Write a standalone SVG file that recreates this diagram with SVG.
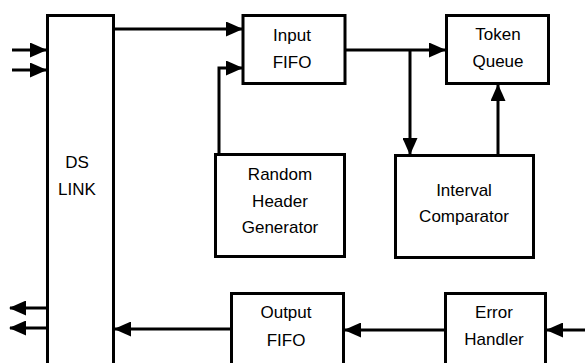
<svg xmlns="http://www.w3.org/2000/svg" width="585" height="363" viewBox="0 0 585 363">
  <style>
    .box { fill: #fff; stroke: #000; stroke-width: 3; }
    .lbl { font-family: "Liberation Sans", Arial, sans-serif; font-size: 17px; fill: #000; text-anchor: middle; }
    .wire { fill: none; stroke: #000; stroke-width: 3; }
  </style>
  <defs>
    <marker id="arrow" markerUnits="userSpaceOnUse" markerWidth="17" markerHeight="15" refX="16" refY="7.5" orient="auto">
      <path d="M0,0 L17,7.5 L0,15 z" fill="#000"/>
    </marker>
  </defs>
  <rect width="585" height="363" fill="#fff"/>

  <g id="ds-link">
    <rect class="box" x="47.5" y="15.5" width="66" height="360"/>
    <text class="lbl" x="77" y="168">DS</text>
    <text class="lbl" x="77" y="195">LINK</text>
  </g>

  <g id="input-fifo">
    <rect class="box" x="243" y="15.5" width="102" height="68"/>
    <text class="lbl" x="292" y="41">Input</text>
    <text class="lbl" x="292" y="68">FIFO</text>
  </g>

  <g id="token-queue">
    <rect class="box" x="446.5" y="15.5" width="102" height="68"/>
    <text class="lbl" x="498" y="40">Token</text>
    <text class="lbl" x="498" y="67">Queue</text>
  </g>

  <g id="random-header-generator">
    <rect class="box" x="215.5" y="154.5" width="129" height="102"/>
    <text class="lbl" x="280" y="180">Random</text>
    <text class="lbl" x="280" y="207">Header</text>
    <text class="lbl" x="280" y="233">Generator</text>
  </g>

  <g id="interval-comparator">
    <rect class="box" x="395.5" y="155.5" width="138" height="102"/>
    <text class="lbl" x="464" y="196">Interval</text>
    <text class="lbl" x="464" y="222">Comparator</text>
  </g>

  <g id="output-fifo">
    <rect class="box" x="231.5" y="293.5" width="112" height="80"/>
    <text class="lbl" x="286" y="318">Output</text>
    <text class="lbl" x="286" y="346">FIFO</text>
  </g>

  <g id="error-handler">
    <rect class="box" x="445.5" y="293.5" width="100" height="80"/>
    <text class="lbl" x="494" y="318">Error</text>
    <text class="lbl" x="494" y="345">Handler</text>
  </g>

  <g id="connectors">
    <!-- external inputs to DS LINK -->
    <line class="wire" x1="12" y1="50" x2="46" y2="50" marker-end="url(#arrow)"/>
    <line class="wire" x1="12" y1="70" x2="46" y2="70" marker-end="url(#arrow)"/>
    <!-- DS LINK to Input FIFO -->
    <line class="wire" x1="114" y1="29" x2="242" y2="29" marker-end="url(#arrow)"/>
    <!-- Random Header Generator to Input FIFO -->
    <polyline class="wire" points="219,154 219,68 242,68" marker-end="url(#arrow)"/>
    <!-- Input FIFO to Token Queue -->
    <line class="wire" x1="345" y1="50" x2="445" y2="50" marker-end="url(#arrow)"/>
    <!-- branch to Interval Comparator -->
    <line class="wire" x1="410" y1="50" x2="410" y2="154" marker-end="url(#arrow)"/>
    <!-- Interval Comparator to Token Queue -->
    <line class="wire" x1="498" y1="155" x2="498" y2="85" marker-end="url(#arrow)"/>
    <!-- Error Handler input -->
    <line class="wire" x1="585" y1="330" x2="547" y2="330" marker-end="url(#arrow)"/>
    <!-- Error Handler to Output FIFO -->
    <line class="wire" x1="445" y1="330" x2="345" y2="330" marker-end="url(#arrow)"/>
    <!-- Output FIFO to DS LINK -->
    <line class="wire" x1="231" y1="329" x2="115" y2="329" marker-end="url(#arrow)"/>
    <!-- DS LINK external outputs -->
    <line class="wire" x1="46" y1="308" x2="10" y2="308" marker-end="url(#arrow)"/>
    <line class="wire" x1="46" y1="328" x2="10" y2="328" marker-end="url(#arrow)"/>
  </g>
</svg>
